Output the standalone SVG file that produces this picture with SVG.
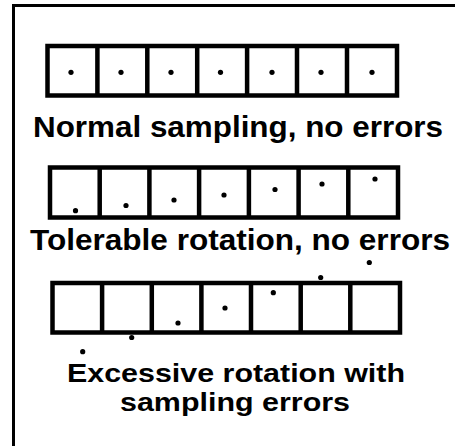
<svg xmlns="http://www.w3.org/2000/svg" width="455" height="446" viewBox="0 0 455 446">
<style>
.cell{fill:none;stroke:#000;stroke-width:4.5}
.dot{fill:#000}
.lbl{font-family:"Liberation Sans",Arial,sans-serif;font-weight:bold;font-size:30px;fill:#000;text-anchor:middle}
.sm{font-size:26px}
</style>
<rect width="455" height="446" fill="#fff"/>
<g id="frame" stroke="#000" stroke-width="3" fill="none">
<line x1="13.5" y1="5.5" x2="455" y2="5.5"/>
<line x1="13.5" y1="4" x2="13.5" y2="446"/>
</g>
<g id="row1">
<rect class="cell" x="47.5" y="46" width="349.5" height="49.5"/>
<path class="cell" d="M97.4 46V95.5M147.3 46V95.5M197.2 46V95.5M247.1 46V95.5M297 46V95.5M347 46V95.5"/>
<circle class="dot" cx="71" cy="72.3" r="2.6"/>
<circle class="dot" cx="121" cy="72.3" r="2.6"/>
<circle class="dot" cx="171" cy="72.3" r="2.6"/>
<circle class="dot" cx="220.5" cy="72.3" r="2.6"/>
<circle class="dot" cx="272" cy="72.3" r="2.6"/>
<circle class="dot" cx="321" cy="72.3" r="2.6"/>
<circle class="dot" cx="372" cy="72.3" r="2.6"/>
<text class="lbl" x="238" y="137" textLength="410" lengthAdjust="spacingAndGlyphs">Normal sampling, no errors</text>
</g>
<g id="row2">
<rect class="cell" x="50" y="167.5" width="348" height="50"/>
<path class="cell" d="M99.7 167.5V217.5M149.4 167.5V217.5M199.1 167.5V217.5M248.9 167.5V217.5M298.6 167.5V217.5M348.3 167.5V217.5"/>
<circle class="dot" cx="75.5" cy="210.7" r="2.6"/>
<circle class="dot" cx="126" cy="205.5" r="2.6"/>
<circle class="dot" cx="174" cy="200" r="2.6"/>
<circle class="dot" cx="224" cy="195" r="2.6"/>
<circle class="dot" cx="275" cy="189.5" r="2.6"/>
<circle class="dot" cx="322" cy="184" r="2.6"/>
<circle class="dot" cx="375" cy="179" r="2.6"/>
<text class="lbl" x="240" y="250" textLength="420" lengthAdjust="spacingAndGlyphs">Tolerable rotation, no errors</text>
</g>
<g id="row3">
<rect class="cell" x="52.5" y="283" width="347.5" height="49.5"/>
<path class="cell" d="M102.1 283V332.5M151.8 283V332.5M201.4 283V332.5M251 283V332.5M300.7 283V332.5M350.3 283V332.5"/>
<circle class="dot" cx="369.3" cy="262.5" r="2.6"/>
<circle class="dot" cx="320.7" cy="277.5" r="2.6"/>
<circle class="dot" cx="273.3" cy="292.7" r="2.6"/>
<circle class="dot" cx="225" cy="308" r="2.6"/>
<circle class="dot" cx="178" cy="323" r="2.6"/>
<circle class="dot" cx="131.7" cy="337.5" r="2.6"/>
<circle class="dot" cx="82.7" cy="351.7" r="2.6"/>
<text class="lbl sm" x="236" y="381.5" textLength="338" lengthAdjust="spacingAndGlyphs">Excessive rotation with</text>
<text class="lbl sm" x="235" y="410.5" textLength="230" lengthAdjust="spacingAndGlyphs">sampling errors</text>
</g>
</svg>
